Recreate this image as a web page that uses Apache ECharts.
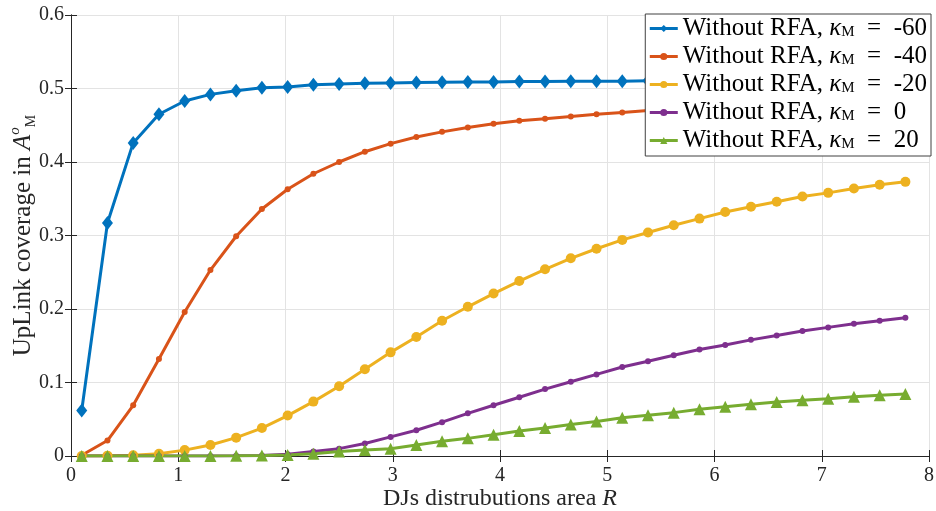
<!DOCTYPE html>
<html>
<head>
<meta charset="utf-8">
<script src="https://cdn.jsdelivr.net/npm/echarts@6/dist/echarts.min.js"></script>
<style>
  html, body { margin: 0; padding: 0; background: #fff; }
  #chart { width: 936px; height: 511px; }
</style>
</head>
<body>
<div id="chart"></div>
<script>
// DJ distribution area R (x positions of samples)
const areaR = [0.10, 0.34, 0.58, 0.82, 1.06, 1.30, 1.54, 1.78, 2.02, 2.26, 2.50,
  2.74, 2.98, 3.22, 3.46, 3.70, 3.94, 4.18, 4.42, 4.66, 4.90, 5.14, 5.38, 5.62,
  5.86, 6.10, 6.34, 6.58, 6.82, 7.06, 7.30, 7.54, 7.78];

// Uplink coverage, one array per kappa_M value
const kappaM60 = [0.062, 0.317, 0.426, 0.465, 0.483, 0.492, 0.497, 0.501, 0.502,
  0.505, 0.506, 0.507, 0.5075, 0.508, 0.5085, 0.509, 0.509, 0.5095, 0.5095, 0.510,
  0.510, 0.510, 0.5105, 0.5105, 0.5105, 0.511, 0.511, 0.511, 0.511, 0.511, 0.511,
  0.511, 0.511];
const kappaM40 = [0.001, 0.021, 0.069, 0.132, 0.196, 0.253, 0.299, 0.336, 0.363,
  0.384, 0.400, 0.414, 0.425, 0.434, 0.441, 0.447, 0.452, 0.456, 0.459, 0.462,
  0.465, 0.4675, 0.470, 0.472, 0.4735, 0.475, 0.476, 0.477, 0.478, 0.479, 0.4795,
  0.480, 0.4805];
const kappaM20 = [0.000, 0.0005, 0.001, 0.003, 0.008, 0.015, 0.025, 0.038, 0.055,
  0.074, 0.095, 0.118, 0.141, 0.162, 0.184, 0.203, 0.221, 0.238, 0.254, 0.269,
  0.282, 0.294, 0.304, 0.314, 0.323, 0.332, 0.339, 0.346, 0.353, 0.358, 0.364,
  0.369, 0.373];
const kappa0 = [0, 0, 0, 0, 0, 0, 0.0002, 0.0008, 0.0025, 0.006, 0.010, 0.017,
  0.026, 0.035, 0.046, 0.058, 0.069, 0.080, 0.091, 0.101, 0.111, 0.121, 0.129,
  0.137, 0.145, 0.151, 0.158, 0.164, 0.170, 0.175, 0.180, 0.184, 0.188];
const kappaP20 = [0, 0, 0, 0, 0, 0, 0.0002, 0.0006, 0.0015, 0.003, 0.006, 0.008,
  0.010, 0.015, 0.020, 0.024, 0.029, 0.034, 0.038, 0.043, 0.047, 0.052, 0.0555,
  0.059, 0.0635, 0.067, 0.0705, 0.0735, 0.076, 0.078, 0.0805, 0.0825, 0.0845];

const kappaLabels = ['-60', '-40', '-20', '0', '20'];
const xTicks = ['0', '1', '2', '3', '4', '5', '6', '7', '8'];
const yTicks = ['0', '0.1', '0.2', '0.3', '0.4', '0.5', '0.6'];

const SERIF = '"Liberation Serif", "DejaVu Serif", serif';
const INK = '#262626';
const pair = (ys) => areaR.map((x, i) => [x, ys[i]]);

const styles = [
  { color: '#0072BD', symbol: 'diamond', size: [11, 14] },
  { color: '#D95319', symbol: 'circle', size: 6 },
  { color: '#EDB120', symbol: 'circle', size: 10 },
  { color: '#7E2F8E', symbol: 'circle', size: 6 },
  { color: '#77AC30', symbol: 'triangle', size: 12 }
];
const seriesData = [kappaM60, kappaM40, kappaM20, kappa0, kappaP20];

const series = seriesData.map((ys, k) => ({
  name: 'k' + kappaLabels[k],
  type: 'line',
  data: pair(ys),
  symbol: styles[k].symbol,
  symbolSize: styles[k].size,
  showAllSymbol: true,
  lineStyle: { color: styles[k].color, width: 3 },
  itemStyle: { color: styles[k].color },
  emphasis: { disabled: true },
  animation: false
}));

const chart = echarts.init(document.getElementById('chart'), null, { renderer: 'canvas' });
chart.setOption({
  animation: false,
  backgroundColor: '#ffffff',
  grid: { left: 71, right: 7, top: 15, bottom: 55, containLabel: false, outerBoundsMode: 'none' },
  xAxis: [{
    type: 'value', min: 0, max: 8, interval: 1,
    axisLine: { show: true, onZero: false, lineStyle: { color: INK, width: 1 } },
    axisTick: { inside: true, length: 6, lineStyle: { color: INK } },
    axisLabel: { fontFamily: SERIF, fontSize: 20, color: INK, margin: 10,
      formatter: (v) => xTicks[Math.round(v)] },
    splitLine: { show: true, lineStyle: { color: '#e3e3e3', width: 1 } },
    name: '{n|DJs distrubutions area }{i|R}',
    nameLocation: 'middle', nameGap: 31, nameMoveOverlap: false,
    nameTextStyle: { rich: {
      n: { fontFamily: SERIF, fontSize: 24, color: INK },
      i: { fontFamily: SERIF, fontSize: 24, fontStyle: 'italic', color: INK }
    } }
  }, {
    type: 'value', min: 0, max: 8, interval: 1, position: 'top',
    axisLine: { show: true, lineStyle: { color: INK, width: 1 } },
    axisTick: { inside: true, length: 6, lineStyle: { color: INK } },
    axisLabel: { show: false }, splitLine: { show: false }
  }],
  yAxis: [{
    type: 'value', min: 0, max: 0.6, interval: 0.1,
    axisLine: { show: true, onZero: false, lineStyle: { color: INK, width: 1 } },
    axisTick: { show: true, inside: true, length: 6, lineStyle: { color: INK } },
    axisLabel: { fontFamily: SERIF, fontSize: 20, color: INK, margin: 7,
      formatter: (v) => yTicks[Math.round(v * 10)] },
    splitLine: { show: true, lineStyle: { color: '#e3e3e3', width: 1 } },
    name: '{n|UpLink coverage in }{i|A}{sup|o}{sub|M}',
    nameLocation: 'middle', nameGap: 33, nameRotate: 90, nameMoveOverlap: false,
    nameTextStyle: { rich: {
      n: { fontFamily: SERIF, fontSize: 25, color: INK, lineHeight: 30 },
      i: { fontFamily: SERIF, fontSize: 25, fontStyle: 'italic', color: INK, lineHeight: 30 },
      sup: { fontFamily: SERIF, fontSize: 15, fontStyle: 'italic', color: INK, lineHeight: 14, verticalAlign: 'top' },
      sub: { fontFamily: SERIF, fontSize: 14, color: INK, lineHeight: 12, verticalAlign: 'bottom' }
    } }
  }, {
    type: 'value', min: 0, max: 0.6, interval: 0.1, position: 'right',
    axisLine: { show: true, lineStyle: { color: INK, width: 1 } },
    axisTick: { show: true, inside: true, length: 6, lineStyle: { color: INK } },
    axisLabel: { show: false }, splitLine: { show: false }
  }],
  legend: {
    orient: 'vertical',
    right: 5, top: 14,
    backgroundColor: '#ffffff',
    borderColor: '#404040', borderWidth: 1,
    padding: [2, 4, 3, 3],
    itemWidth: 28, itemHeight: 9, itemGap: 3,
    lineStyle: { width: 3 },
    data: series.map(s => s.name),
    formatter: (name) => {
      const k = kappaLabels[series.findIndex(s => s.name === name)];
      return '{t|Without RFA, }{k|κ}{m|M}{t|\u2002=\u2002' + k + '}';
    },
    textStyle: {
      rich: {
        t: { fontFamily: SERIF, fontSize: 25, color: '#000', lineHeight: 22 },
        k: { fontFamily: SERIF, fontSize: 25, fontStyle: 'italic', color: '#000', lineHeight: 22 },
        m: { fontFamily: SERIF, fontSize: 15, color: '#000', lineHeight: 12, verticalAlign: 'bottom' }
      }
    }
  },
  series: series
});
</script>
</body>
</html>
